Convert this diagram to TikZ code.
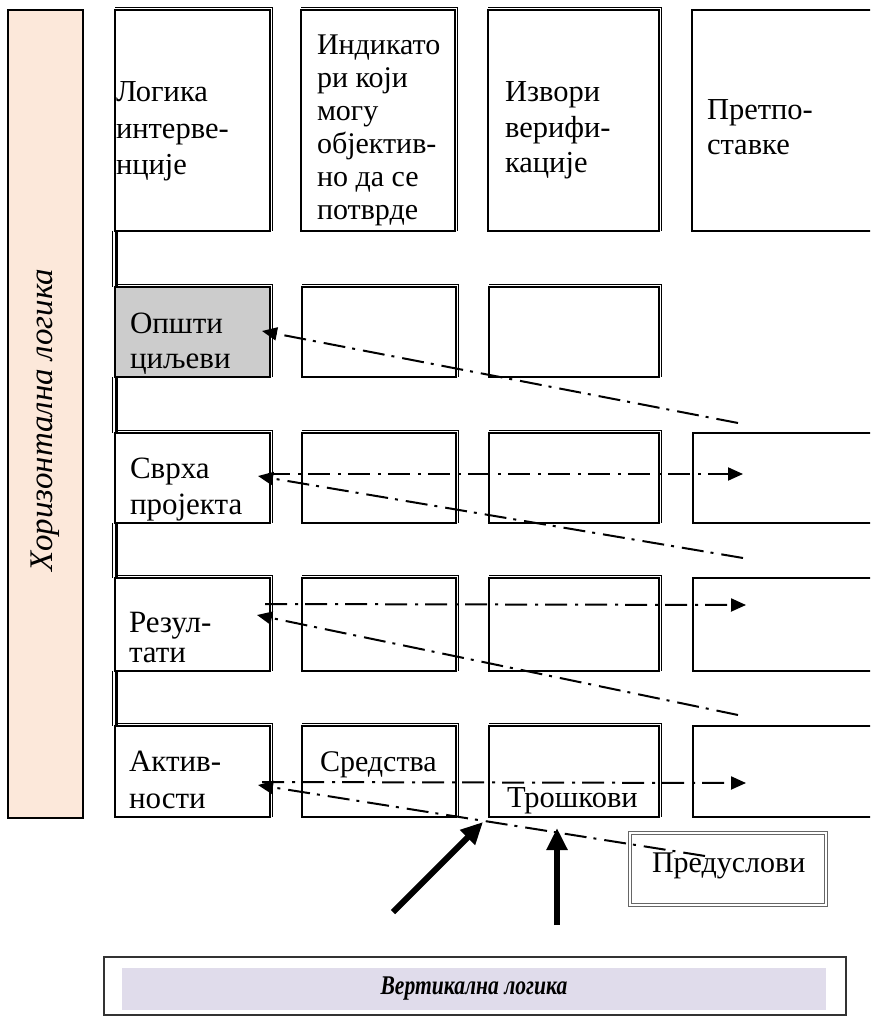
\documentclass[tikz,border=0pt]{standalone}
\usepackage{fontspec}
\usepackage{graphicx}
\setmainfont{Liberation Serif}
\usetikzlibrary{arrows.meta}

\definecolor{peach}{HTML}{FCE8DA}
\definecolor{cellgray}{HTML}{CCCCCC}
\definecolor{lavender}{HTML}{E0DCEB}

% a framed cell from (x1,y1) to (x2,y2), y measured downwards
\newcommand\cell[6][]{%
  \node[cellbox,#1,minimum width={(#5-#3)*1pt},minimum height={(#6-#4)*1pt}] (#2) at (#3,#4) {};}
% thin outer rim on the top and right side of a cell
\newcommand\rim[1]{%
  \draw[rimline] ([yshift=2.6pt]#1.north west) -| ([xshift=2.6pt]#1.south east);}

\begin{document}
\begin{tikzpicture}[x=1pt,y=-1pt,
  cellbox/.style={draw=black,line width=1.7pt,anchor=north west,inner sep=0pt,outer sep=0pt},
  rimline/.style={line width=0.7pt},
  % multi-line texts are placed by the baseline of their last line
  txt/.style={anchor=base west,align=left,inner sep=0pt,outer sep=0pt},
  ddash/.style={line width=2pt,dash pattern=on 22pt off 8pt on 3pt off 7pt},
  tipL/.style={-{Triangle[length=15pt,width=13pt]}},
  bigarrow/.style={line width=6pt,-{Triangle[length=22pt,width=20pt]}},
  linkbar/.style={line width=3.4pt},
  linkrim/.style={line width=0.7pt}]

\useasboundingbox (0,0) rectangle (870,1016);
\clip (0,0) rectangle (870,1016);

% horizontal logic bar on the left
\node[draw=black,line width=1.6pt,fill=peach,minimum width=75pt,minimum height=808pt,
      anchor=north west,inner sep=0pt,outer sep=0pt] (hbar) at (8,10) {};
\node[rotate=90,font=\itshape\fontsize{33}{36}\selectfont] (hlabel) at (45,420) {Хоризонтална логика};

% column headers
\cell{c11}{115}{10}{270}{231}
\cell{c12}{301}{10}{455}{231}
\cell{c13}{488}{10}{659}{231}
\cell{c14}{692}{10}{900}{231}
% general objectives
\cell[fill=cellgray]{c21}{115}{287}{270}{377}
\cell{c22}{302}{287}{456}{377}
\cell{c23}{489}{287}{659}{377}
% project purpose
\cell{c31}{115}{433}{270}{523}
\cell{c32}{302}{433}{456}{523}
\cell{c33}{489}{433}{659}{523}
\cell{c34}{693}{433}{900}{523}
% results
\cell{c41}{115}{578}{270}{671}
\cell{c42}{302}{578}{456}{671}
\cell{c43}{489}{578}{659}{671}
\cell{c44}{693}{578}{900}{671}
% activities
\cell{c51}{115}{726}{270}{817}
\cell{c52}{302}{726}{456}{817}
\cell{c53}{489}{726}{659}{817}
\cell{c54}{693}{726}{900}{817}

\foreach \c in {c11,c12,c13,c21,c22,c23,c31,c32,c33,c41,c42,c43,c51,c52,c53}{\rim{\c}}

% links joining the first column
\foreach \a/\b in {c11/c21,c21/c31,c31/c41,c41/c51}{
  \draw[linkbar] ([xshift=1.2pt]\a.south west) -- ([xshift=1.2pt]\b.north west);
  \draw[linkrim] ([xshift=-2.4pt]\a.south west) -- ([xshift=-2.4pt]\b.north west);
}

% texts
\node[txt,font=\fontsize{30.5}{36.5}\selectfont] (tlog) at (116,175) {Логика\\интерве-\\нције};
\node[txt,font=\fontsize{30}{33}\selectfont] (tind) at (317,220) {Индикато\\ри који\\могу\\објектив-\\но да се\\потврде};
\node[txt,font=\fontsize{30.5}{35.5}\selectfont] (tizv) at (505,173) {Извори\\верифи-\\кације};
\node[txt,font=\fontsize{30.5}{35}\selectfont] (tpre) at (707,155) {Претпо-\\ставке};
\node[txt,font=\fontsize{31}{35}\selectfont] (topc) at (130,368) {Општи\\циљеви};
\node[txt,font=\fontsize{31}{36}\selectfont] (tsvr) at (130,514) {Сврха\\пројекта};
\node[txt,font=\fontsize{31}{30}\selectfont] (trez) at (129,662) {Резул-\\тати};
\node[txt,font=\fontsize{31}{37}\selectfont] (takt) at (129,808) {Актив-\\ности};
\node[txt,font=\fontsize{30}{36}\selectfont] (tsre) at (320,771) {Средства};
\node[txt,font=\fontsize{30.5}{36}\selectfont] (ttro) at (507,807) {Трошкови};

% preconditions box
\node[draw=black!60,double,double distance=1.5pt,line width=0.9pt,minimum width=196pt,
      minimum height=72pt,anchor=north west,inner sep=0pt,outer sep=0pt] (pre) at (630,833) {};
\node[txt,font=\fontsize{30}{36}\selectfont] (tpred) at (652,872) {Предуслови};

% dash-dotted links
\coordinate (g2r) at (738,423);  \coordinate (g2l) at (262,331);
\coordinate (h3l) at (268,474);  \coordinate (h3r) at (743,474);
\coordinate (g3r) at (743,558);  \coordinate (g3l) at (258,476);
\coordinate (h4l) at (265,604);  \coordinate (h4r) at (746,605);
\coordinate (g4r) at (738,715);  \coordinate (g4l) at (257,615);
\coordinate (h5l) at (262,782);  \coordinate (h5r) at (746,783);
\coordinate (g5r) at (705,856);  \coordinate (g5l) at (258,785);

\draw[ddash,tipL] (g2r) -- (g2l);
\draw[ddash,tipL] (h3l) -- (h3r);
\draw[ddash,tipL] (g3r) -- (g3l);
\draw[ddash,tipL] (h4l) -- (h4r);
\draw[ddash,tipL] (g4r) -- (g4l);
\draw[ddash,tipL] (h5l) -- (h5r);
\draw[ddash,tipL] (g5r) -- (g5l);

% heavy arrows from the vertical logic
\coordinate (a1s) at (393,912); \coordinate (a1e) at (483,822);
\coordinate (a2s) at (557,925); \coordinate (a2e) at (557,828);
\draw[bigarrow] (a1s) -- (a1e);
\draw[bigarrow] (a2s) -- (a2e);

% vertical logic banner
\node[draw=black!80,line width=1.2pt,minimum width=742pt,minimum height=58pt,
      anchor=north west,inner sep=0pt,outer sep=0pt] (vframe) at (104,957) {};
\node[fill=lavender,minimum width=704pt,minimum height=42pt,anchor=north west,
      inner sep=0pt,outer sep=0pt] (vband) at (122,968) {};
\node[font=\bfseries\itshape\fontsize{27}{30}\selectfont] (vlabel) at (vband.center)
  {\scalebox{0.8}[1]{Вертикална логика}};
\end{tikzpicture}
\end{document}
